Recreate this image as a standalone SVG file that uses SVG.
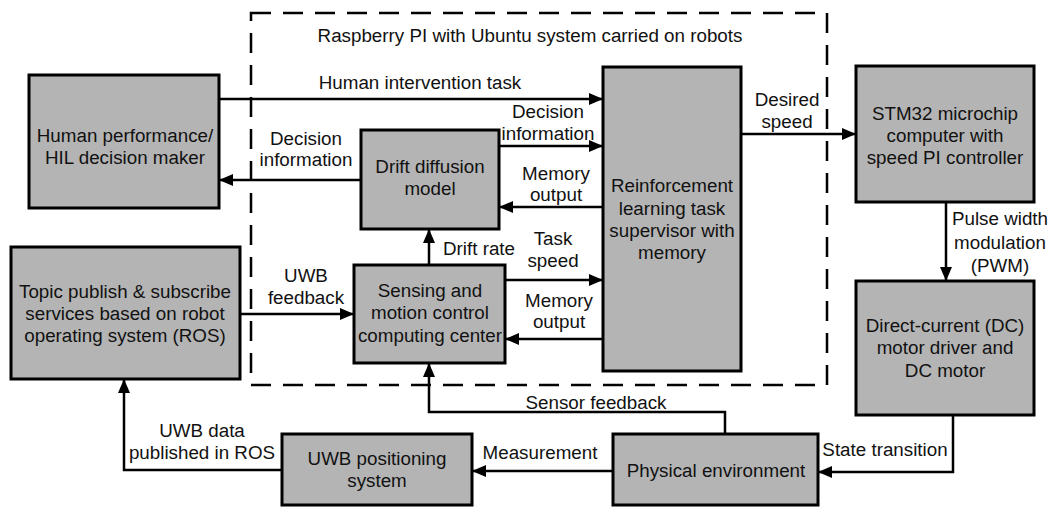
<svg xmlns="http://www.w3.org/2000/svg" width="1052" height="507" viewBox="0 0 1052 507">
  <style>
    .box { fill: #b4b4b4; stroke: #000; stroke-width: 3; }
    .frame { fill: none; stroke: #000; stroke-width: 2.5; stroke-dasharray: 20 12; }
    .wire { fill: none; stroke: #000; stroke-width: 2.5; }
    text { font-family: "Liberation Sans", Arial, sans-serif; font-size: 18.8px; fill: #111; }
    .c { text-anchor: middle; }
  </style>
  <defs>
    <marker id="arrow" markerUnits="userSpaceOnUse" markerWidth="16" markerHeight="14" refX="14" refY="7" orient="auto">
      <path d="M0,1 L14,7 L0,13 z" fill="#000"/>
    </marker>
  </defs>
  <rect x="0" y="0" width="1052" height="507" fill="#fff"/>

  <!-- on-board computer boundary -->
  <g id="raspberry-pi">
    <rect class="frame" x="251" y="13" width="576" height="372"/>
    <text class="c" x="530" y="42">Raspberry PI with Ubuntu system carried on robots</text>
  </g>

  <g id="human">
    <rect class="box" x="29" y="75" width="190" height="133"/>
    <text class="c" x="125" y="142">Human performance/</text>
    <text class="c" x="125" y="164">HIL decision maker</text>
  </g>

  <g id="ros">
    <rect class="box" x="11" y="247" width="229" height="132"/>
    <text class="c" x="125" y="298">Topic publish &amp; subscribe</text>
    <text class="c" x="125" y="320">services based on robot</text>
    <text class="c" x="125" y="342">operating system (ROS)</text>
  </g>

  <g id="ddm">
    <rect class="box" x="361" y="130" width="138" height="99"/>
    <text class="c" x="430" y="173">Drift diffusion</text>
    <text class="c" x="430" y="195">model</text>
  </g>

  <g id="sensing">
    <rect class="box" x="354" y="265" width="151" height="98"/>
    <text class="c" x="430" y="297">Sensing and</text>
    <text class="c" x="430" y="319">motion control</text>
    <text class="c" x="430" y="342">computing center</text>
  </g>

  <g id="rl-supervisor">
    <rect class="box" x="603" y="67" width="138" height="304"/>
    <text class="c" x="672" y="192">Reinforcement</text>
    <text class="c" x="672" y="215">learning task</text>
    <text class="c" x="672" y="237">supervisor with</text>
    <text class="c" x="672" y="259">memory</text>
  </g>

  <g id="stm32">
    <rect class="box" x="856" y="66" width="178" height="136"/>
    <text class="c" x="945" y="120">STM32 microchip</text>
    <text class="c" x="945" y="142">computer with</text>
    <text class="c" x="945" y="164">speed PI controller</text>
  </g>

  <g id="dc-motor">
    <rect class="box" x="856" y="281" width="178" height="134"/>
    <text class="c" x="945" y="332">Direct-current (DC)</text>
    <text class="c" x="945" y="354">motor driver and</text>
    <text class="c" x="945" y="377">DC motor</text>
  </g>

  <g id="uwb">
    <rect class="box" x="282" y="434" width="190" height="71"/>
    <text class="c" x="377" y="465">UWB positioning</text>
    <text class="c" x="377" y="487">system</text>
  </g>

  <g id="environment">
    <rect class="box" x="613" y="434" width="205" height="71"/>
    <text class="c" x="716" y="477">Physical environment</text>
  </g>

  <g id="connectors">
    <path class="wire" d="M219,99 H603" marker-end="url(#arrow)"/>
    <path class="wire" d="M499,146 H603" marker-end="url(#arrow)"/>
    <path class="wire" d="M603,207 H499" marker-end="url(#arrow)"/>
    <path class="wire" d="M361,180 H219" marker-end="url(#arrow)"/>
    <path class="wire" d="M429,265 V229" marker-end="url(#arrow)"/>
    <path class="wire" d="M505,280 H603" marker-end="url(#arrow)"/>
    <path class="wire" d="M603,339 H505" marker-end="url(#arrow)"/>
    <path class="wire" d="M240,314 H354" marker-end="url(#arrow)"/>
    <path class="wire" d="M741,134 H856" marker-end="url(#arrow)"/>
    <path class="wire" d="M946,202 V281" marker-end="url(#arrow)"/>
    <path class="wire" d="M953,415 V472 H818" marker-end="url(#arrow)"/>
    <path class="wire" d="M725,434 V412 H429 V363" marker-end="url(#arrow)"/>
    <path class="wire" d="M613,471 H472" marker-end="url(#arrow)"/>
    <path class="wire" d="M282,470 H124 V379" marker-end="url(#arrow)"/>

    <text class="c" x="420" y="89">Human intervention task</text>
    <text class="c" x="548" y="118">Decision</text>
    <text class="c" x="548" y="140">information</text>
    <text class="c" x="556" y="180">Memory</text>
    <text class="c" x="556" y="201">output</text>
    <text class="c" x="306" y="145">Decision</text>
    <text class="c" x="306" y="166">information</text>
    <text x="443" y="255">Drift rate</text>
    <text class="c" x="553" y="245">Task</text>
    <text class="c" x="553" y="267">speed</text>
    <text class="c" x="559" y="307">Memory</text>
    <text class="c" x="559" y="328">output</text>
    <text class="c" x="306" y="282">UWB</text>
    <text class="c" x="306" y="304">feedback</text>
    <text class="c" x="787" y="106">Desired</text>
    <text class="c" x="787" y="128">speed</text>
    <text class="c" x="1000" y="225">Pulse width</text>
    <text class="c" x="1000" y="249">modulation</text>
    <text class="c" x="1000" y="272">(PWM)</text>
    <text class="c" x="885" y="456">State transition</text>
    <text class="c" x="596" y="409">Sensor feedback</text>
    <text class="c" x="540" y="459">Measurement</text>
    <text class="c" x="202" y="437">UWB data</text>
    <text class="c" x="202" y="459">published in ROS</text>
  </g>
</svg>
